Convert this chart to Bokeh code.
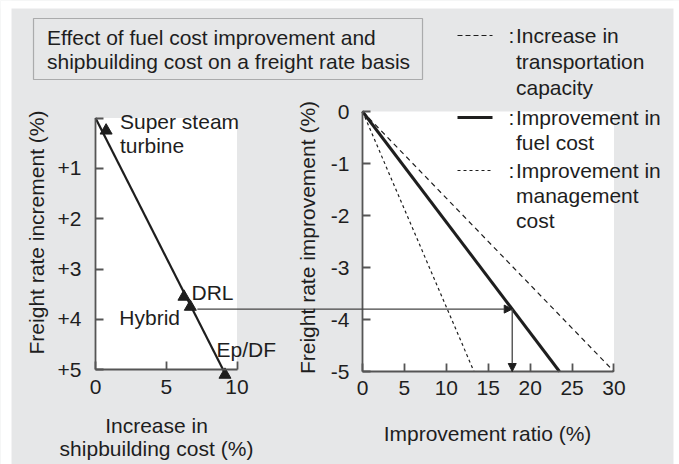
from bokeh.plotting import figure
from bokeh.models import (Range1d, LinearAxis, FixedTicker, Label, BoxAnnotation,
                          Arrow, NormalHead)
from bokeh.embed import file_html
from bokeh.resources import INLINE

# ---------------- data ----------------
techs = ["Super steam turbine", "DRL", "Hybrid", "Ep/DF"]
build_cost_increase = [0.75, 6.25, 6.7, 9.15]      # Increase in shipbuilding cost (%)
freight_increment = [0.25, 3.55, 3.75, 5.1]        # Freight rate increment (%)
trend_cost = [0, 9.2]
trend_freight = [0, 5.1]

improvements = ["Increase in transportation capacity",
                "Improvement in fuel cost",
                "Improvement in management cost"]
ratio_at_end = [30, 23.5, 13.3]      # improvement ratio (%) reaching ...
freight_at_end = [-5, -5, -5]        # ... this freight rate improvement (%)

hybrid_freight = 3.8                 # freight rate increment carried over by arrow

left_y_ticks = [0, 1, 2, 3, 4, 5]
left_y_labels = ["", "+1", "+2", "+3", "+4", "+5"]
left_x_ticks = [0, 5, 10]
right_y_ticks = [0, -1, -2, -3, -4, -5]
right_x_ticks = [0, 5, 10, 15, 20, 25, 30]

# ---------------- layout / style ----------------
BG = "#e6e7e8"
INK = "#1e1e1e"
AXC = "#555555"
FONT = "Liberation Sans"
FS = "21px"
LEFT, TOP = 0, 0
W, H = 679, 464

def xr(origin, per):
    return Range1d((LEFT - origin) / per, (LEFT + W - origin) / per)

def yr(origin, per):
    return Range1d((TOP + H - origin) / per, (TOP - origin) / per)

L_X0, L_XS = 95.0, 14.15
L_Y0, L_YS = 117.5, 50.35
R_X0, R_XS = 362.0, 8.383
R_Y0, R_YS = 111.0, -52.0

p = figure(width=W, height=H, x_range=Range1d(LEFT, LEFT + W), y_range=Range1d(TOP + H, TOP),
           x_axis_type=None, y_axis_type=None, toolbar_location=None, output_backend="svg",
           min_border=0, background_fill_color=BG, border_fill_color=BG, outline_line_color=None)
p.extra_x_ranges = {"lx": xr(L_X0, L_XS), "rx": xr(R_X0, R_XS)}
p.extra_y_ranges = {"ly": yr(L_Y0, L_YS), "ry": yr(R_Y0, R_YS)}

# white page margins around the grey panel
for kw in (dict(left=0, right=11), dict(left=673, right=W), dict(top=0, bottom=8)):
    p.add_layout(BoxAnnotation(fill_color="white", fill_alpha=1, line_color=None, level="underlay", **kw))

# plot areas
p.quad(left=[0], right=[left_x_ticks[-1]], top=[left_y_ticks[0]], bottom=[left_y_ticks[-1]],
       x_range_name="lx", y_range_name="ly", fill_color="white", line_color=None)
p.quad(left=[0], right=[right_x_ticks[-1]], top=[right_y_ticks[0]], bottom=[right_y_ticks[-1]],
       x_range_name="rx", y_range_name="ry", fill_color="white", line_color=None)

# left chart
p.line(trend_cost, trend_freight, x_range_name="lx", y_range_name="ly", line_color=INK, line_width=2.2)
p.scatter(build_cost_increase, freight_increment, marker="triangle", size=12, color=INK,
          x_range_name="lx", y_range_name="ly")

# right chart
styles = [dict(line_width=1.2, line_dash="5 4"),
          dict(line_width=3.0, line_dash="solid"),
          dict(line_width=1.2, line_dash="3 3")]
for xe, ye, st in zip(ratio_at_end, freight_at_end, styles):
    p.line([0, xe], [0, ye], x_range_name="rx", y_range_name="ry", line_color=INK, **st)

# arrows
fuel_ratio = ratio_at_end[1] * hybrid_freight / abs(freight_at_end[1])
hyb_page_x = L_X0 + L_XS * (build_cost_increase[2] + 0.5)
start_rx = (hyb_page_x - R_X0) / R_XS
p.add_layout(Arrow(end=NormalHead(size=8, fill_color=INK, line_color=INK),
                   x_start=start_rx, y_start=-hybrid_freight, x_end=fuel_ratio, y_end=-hybrid_freight,
                   x_range_name="rx", y_range_name="ry", line_color="#444444", line_width=1.3))
p.add_layout(Arrow(end=NormalHead(size=8, fill_color=INK, line_color=INK),
                   x_start=fuel_ratio, y_start=-hybrid_freight, x_end=fuel_ratio, y_end=right_y_ticks[-1],
                   x_range_name="rx", y_range_name="ry", line_color="#444444", line_width=1.3))

# axes
def add_axis(side, xname, yname, loc, bounds, ticks, standoff, overrides=None):
    ax = LinearAxis(x_range_name=xname, y_range_name=yname, fixed_location=loc, bounds=bounds,
                    ticker=FixedTicker(ticks=ticks, minor_ticks=[]),
                    axis_line_color=AXC, axis_line_width=1.8,
                    major_tick_line_color=AXC, major_tick_line_width=1.8,
                    major_tick_in=8, major_tick_out=0, minor_tick_in=0, minor_tick_out=0,
                    major_label_standoff=standoff, major_label_text_font=FONT,
                    major_label_text_font_size=FS, major_label_text_color=INK)
    if overrides:
        ax.major_label_overrides = overrides
    p.add_layout(ax, side)

add_axis("left", "lx", "ly", 0, (0, 5), left_y_ticks, 14,
         {t: s for t, s in zip(left_y_ticks, left_y_labels)})
add_axis("below", "lx", "ly", 5, (0, 10), left_x_ticks, 10)
add_axis("left", "rx", "ry", 0, (-5, 0), right_y_ticks, 13,
         {t: str(t) for t in right_y_ticks})
add_axis("below", "rx", "ry", -5, (0, 30), right_x_ticks, 9)

# texts (y = visual centre of the line)
def txt(x, y, s, align="left", angle=0):
    p.add_layout(Label(x=x, y=y, text=s, text_align=align, text_baseline="middle", angle=angle,
                       text_font=FONT, text_font_size=FS, text_color=INK))

# title box
p.add_layout(BoxAnnotation(left=33, right=422, top=18, bottom=79, fill_color=None,
                           line_color="#222222", line_width=1.2))
txt(46.5, 36.5, "Effect of fuel cost improvement and")
txt(46.5, 61, "shipbuilding cost on a freight rate basis")

# legend
p.line([457, 492], [35, 35], line_color=INK, line_width=1.2, line_dash="5 3")
p.line([457, 492], [117, 117], line_color=INK, line_width=3)
p.line([457, 490], [170, 170], line_color=INK, line_width=1.2, line_dash="3 3")
for y in (35, 117, 170):
    txt(508, y, ":")
txt(515.5, 35, "Increase in")
txt(515.5, 61, "transportation")
txt(515.5, 87, "capacity")
txt(515.5, 117, "Improvement in")
txt(515.5, 142, "fuel cost")
txt(515.5, 170, "Improvement in")
txt(515.5, 195, "management")
txt(515.5, 220, "cost")

# point labels
txt(119.5, 121, "Super steam")
txt(119.5, 145, "turbine")
txt(191, 292, "DRL")
txt(179.5, 317, "Hybrid", align="right")
txt(216, 349, "Ep/DF")

# axis titles
txt(36, 232, "Freight rate increment (%)", align="center", angle=1.5708)
txt(307, 237, "Freight rate improvement (%)", align="center", angle=1.5708)
txt(156, 425, "Increase in", align="center")
txt(156, 448, "shipbuilding cost (%)", align="center")
txt(487, 433, "Improvement ratio (%)", align="center")

open("out.html", "w").write(file_html(p, INLINE))
